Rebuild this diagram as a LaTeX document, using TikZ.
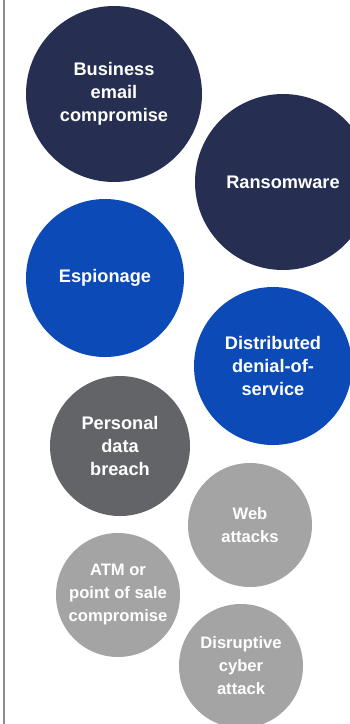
\documentclass[tikz,border=0pt]{standalone}
\usepackage{fontspec}
\setmainfont{Liberation Sans}
\usepackage{tikz}
\usetikzlibrary{positioning}
\definecolor{navy}{HTML}{262E52}
\definecolor{royal}{HTML}{0B4AB7}
\definecolor{slate}{HTML}{636468}
\definecolor{ash}{HTML}{A4A4A4}
\definecolor{rule}{HTML}{8C8C8C}

\begin{document}
\begin{tikzpicture}[x=1pt, y=-1pt,
  bubble/.style={circle, inner sep=0pt, text=white, align=center, font=\bfseries\fontsize{18.2}{23}\selectfont},
  smallbubble/.style={bubble, font=\bfseries\fontsize{16.6}{23}\selectfont}]
  \useasboundingbox (0,0) rectangle (350,724);
  \clip (0,0) rectangle (350,724);
  % left rule
  \draw[rule, line width=2pt] (4,0) -- (4,724);

  % dark threats
  \node[bubble, fill=navy, minimum size=176pt] (bec) at (114,94) {Business\\email\\compromise};
  \node[bubble, fill=navy, minimum size=176pt] (ransom) at (283,182) {Ransomware};

  % blue threats
  \node[bubble, fill=royal, minimum size=158pt] (espionage) at (105,278) {Espionage};
  \node[bubble, fill=royal, minimum size=158pt] (ddos) at (273,366) {Distributed\\denial-of-\\service};

  % grey threats
  \node[bubble, fill=slate, minimum size=140pt] (breach) at (120,446) {Personal\\data\\breach};
  \node[smallbubble, fill=ash, minimum size=124pt] (web) at (250,525) {Web\\attacks};
  \node[smallbubble, fill=ash, minimum size=124pt] (atm) at (118,595) {ATM or\\point of sale\\compromise};
  \node[smallbubble, fill=ash, minimum size=124pt] (disrupt) at (241,666) {Disruptive\\cyber\\attack};
\end{tikzpicture}
\end{document}
